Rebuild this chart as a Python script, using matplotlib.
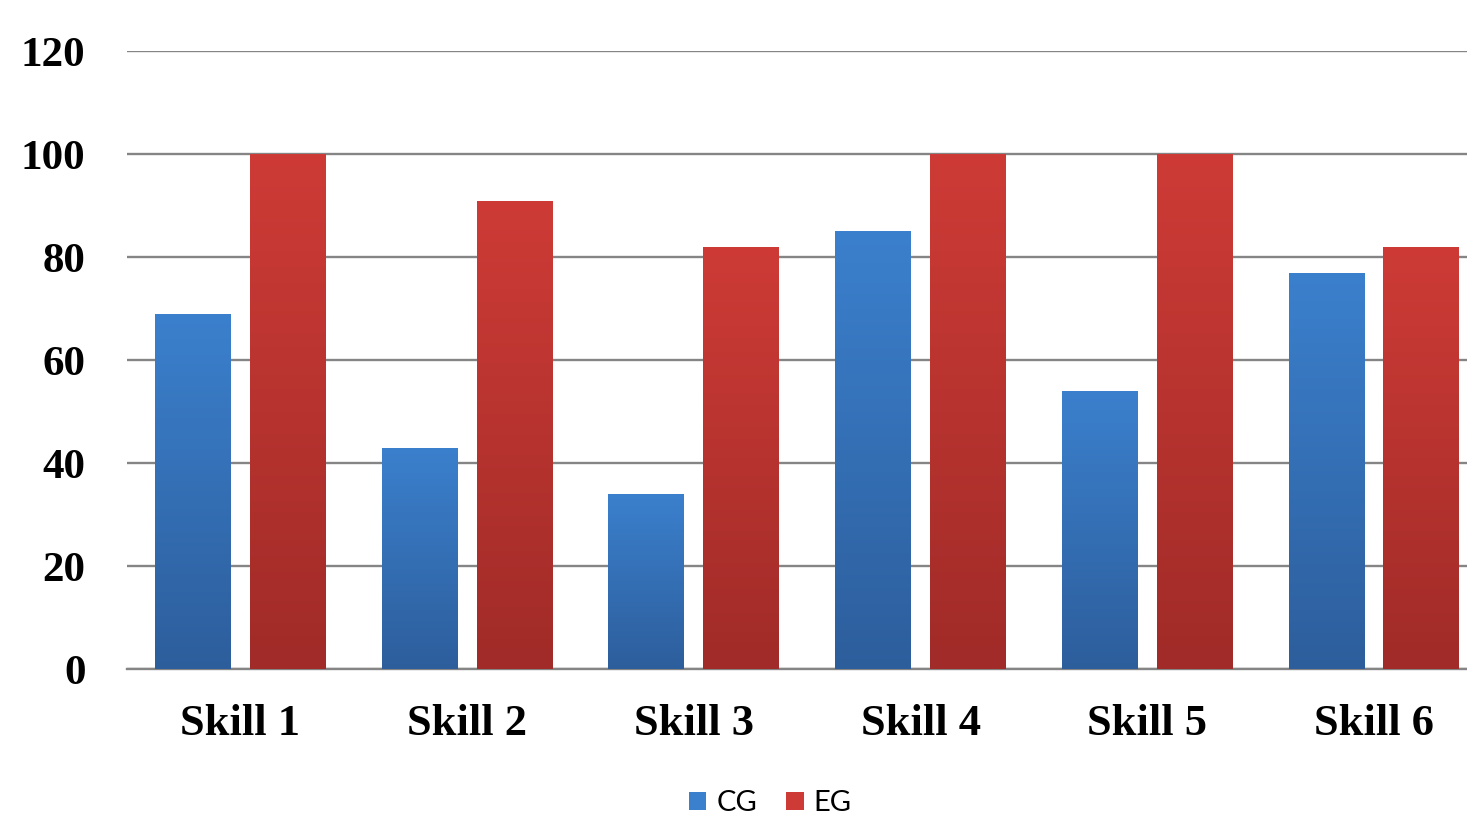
import matplotlib
matplotlib.use("Agg")
import matplotlib.pyplot as plt
import numpy as np
from matplotlib.colors import LinearSegmentedColormap
from matplotlib.patches import Patch

categories = ["Skill 1", "Skill 2", "Skill 3", "Skill 4", "Skill 5", "Skill 6"]
cg_values = [69, 43, 34, 85, 54, 77]
eg_values = [100, 91, 82, 100, 100, 82]
series_names = ["CG", "EG"]
y_ticks = [0, 20, 40, 60, 80, 100, 120]

blue_top, blue_bot = "#3B80CD", "#2D5E9C"
red_top, red_bot = "#CE3B36", "#A02B28"

fig = plt.figure(figsize=(14.67, 8.14), dpi=100)
ax = fig.add_axes([0.0866, 0.178, 0.9134, 0.759])

x = np.arange(len(categories))
off = 0.209
w = 0.335

def grad_bars(xpos, vals, top, bot):
    cmap = LinearSegmentedColormap.from_list("g", [bot, top])
    bars = ax.bar(xpos, vals, w, color=top, zorder=3, linewidth=0)
    grad = np.linspace(0, 1, 256).reshape(-1, 1)
    for b in bars:
        x0 = b.get_x()
        im = ax.imshow(grad, extent=[x0, x0 + b.get_width(), 0, b.get_height()],
                       origin="lower", cmap=cmap, aspect="auto", zorder=3.1,
                       interpolation="bilinear")
        im.set_clip_path(b)
    return bars

grad_bars(x - off, cg_values, blue_top, blue_bot)
grad_bars(x + off, eg_values, red_top, red_bot)

ax.set_xlim(-0.5, 5.41)
ax.set_ylim(0, 120)
ax.set_yticks(y_ticks)
ax.set_xticks(x)
ax.set_xticklabels(categories)
ax.set_axisbelow(True)
ax.yaxis.grid(True, color="#858585", linewidth=1.7)
for s in ["top", "right", "left"]:
    ax.spines[s].set_visible(False)
ax.spines["bottom"].set_color("#858585")
ax.spines["bottom"].set_linewidth(1.7)
ax.tick_params(axis="both", length=0)
ax.tick_params(axis="y", pad=30)
ax.tick_params(axis="x", pad=25)
for lbl in ax.get_yticklabels():
    lbl.set_fontfamily("Liberation Serif")
    lbl.set_fontweight("bold")
    lbl.set_fontsize(31)
for lbl in ax.get_xticklabels():
    lbl.set_fontfamily("Liberation Serif")
    lbl.set_fontweight("bold")
    lbl.set_fontsize(32)

handles = [Patch(facecolor=blue_top, edgecolor="none"), Patch(facecolor=red_top, edgecolor="none")]
fig.legend(handles, series_names, loc="center", bbox_to_anchor=(0.525, 0.013), ncol=2,
           frameon=False, prop={"family": "Lato", "size": 21},
           handlelength=0.6, handleheight=0.6, columnspacing=1.0, handletextpad=0.35)

fig.savefig("out.png", dpi=100)
